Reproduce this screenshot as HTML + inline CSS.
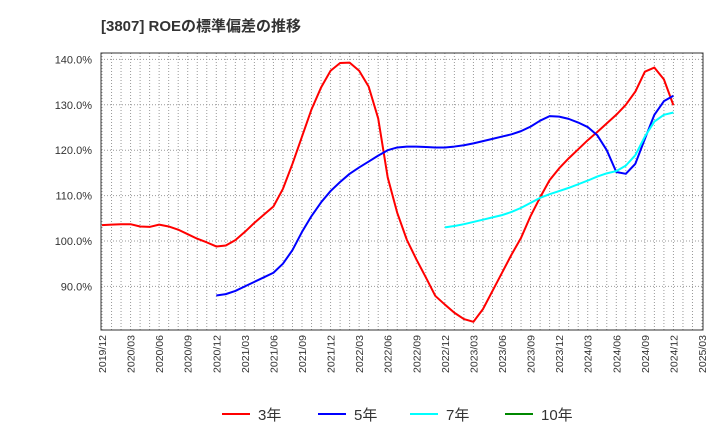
<!DOCTYPE html>
<html><head><meta charset="utf-8"><style>
body{margin:0;background:#fff;font-family:"Liberation Sans","Noto Sans CJK JP",sans-serif}
svg text{font-family:"Liberation Sans","Noto Sans CJK JP",sans-serif}
</style></head><body>
<svg id="c" width="720" height="440" xmlns="http://www.w3.org/2000/svg">
<text x="101" y="31" font-size="15" font-weight="bold" fill="#333">[3807]  ROEの標準偏差の推移</text>
<g id="grid"></g><g id="axes"></g><g id="series"></g><g id="legend"></g>
</svg>
<script>
const xLabels=["2019/12","2020/03","2020/06","2020/09","2020/12","2021/03","2021/06","2021/09","2021/12","2022/03","2022/06","2022/09","2022/12","2023/03","2023/06","2023/09","2023/12","2024/03","2024/06","2024/09","2024/12","2025/03"];
const yTicks=[90,100,110,120,130,140];
const s3Start=0;
const s3=[103.5,103.6,103.7,103.7,103.2,103.1,103.6,103.2,102.5,101.5,100.5,99.7,98.8,99.0,100.2,102,104,105.8,107.6,111.5,117,123,129,133.8,137.5,139.2,139.3,137.5,134,127,114,106.2,100.3,96,92,87.9,86,84.2,82.8,82.2,85,89,93,97,100.7,105.5,109.6,113.4,116,118.2,120.2,122.2,124,125.9,127.8,130,132.9,137.3,138.2,135.6,129.9];
const s5Start=12;
const s5=[88,88.3,89,90,91,92,93,95,98,102,105.5,108.5,111,113,114.8,116.2,117.5,118.8,120,120.6,120.8,120.8,120.7,120.6,120.6,120.8,121.1,121.5,122,122.5,123,123.5,124.2,125.2,126.5,127.5,127.4,126.9,126.1,125.1,123.3,120,115.2,114.8,117,122.5,127.8,130.8,132];
const s7Start=36;
const s7=[103,103.3,103.7,104.2,104.7,105.2,105.7,106.4,107.3,108.4,109.5,110.3,111,111.7,112.5,113.3,114.2,114.9,115.4,116.6,118.9,123,126.3,127.8,128.3];
const s10Start=0;
const s10=[];
const L=101,R=703,T=53,B=330;
const X=m=>102+m*(600/63);
const Y=v=>241-(v-100)*4.54;
const NS="http://www.w3.org/2000/svg";
function mk(t,a,p){const e=document.createElementNS(NS,t);for(const k in a)e.setAttribute(k,a[k]);p.appendChild(e);return e;}
const grid=document.getElementById('grid'),axes=document.getElementById('axes'),ser=document.getElementById('series'),leg=document.getElementById('legend');
for(let m=0;m<=63;m++){const x=X(m);if(x>R)break;
const l=mk('line',{x1:x,x2:x,y1:T,y2:B,stroke:'#999','stroke-dasharray':'1,2','stroke-width':1},grid);

}
yTicks.forEach(v=>{const y=Y(v);
const l=mk('line',{x1:L,x2:R,y1:y,y2:y,stroke:'#999','stroke-dasharray':'1,2'},grid);


const t=mk('text',{x:92,y:y+4,'text-anchor':'end','font-size':11,fill:'#333'},axes);t.textContent=v.toFixed(1)+'%';

});
xLabels.forEach((s,i)=>{const x=X(i*3);
const t=mk('text',{x:0,y:0,'text-anchor':'end','font-size':10.5,fill:'#333',transform:`translate(${x+4},335) rotate(-90)`},axes);t.textContent=s;

});
const fr=mk('rect',{x:L,y:T,width:R-L,height:B-T,fill:'none',stroke:'#333','stroke-width':1},axes);


function line(arr,start,color,name){if(!arr.length)return;
const p=mk('polyline',{points:arr.map((v,i)=>X(start+i)+','+Y(v)).join(' '),fill:'none',stroke:color,'stroke-width':2,'stroke-linejoin':'round'},ser);

}
line(s3,s3Start,'#f00','series-3y');
line(s5,s5Start,'#00f','series-5y');
line(s7,s7Start,'#0ff','series-7y');
line(s10,s10Start,'#080','series-10y');
[['3年','#f00',222],['5年','#00f',318],['7年','#0ff',410],['10年','#080',505]].forEach(([n,c,x])=>{
const g=mk('g',{},leg);


mk('line',{x1:x,x2:x+28,y1:414,y2:414,stroke:c,'stroke-width':2},g);
const t=mk('text',{x:x+36,y:420,'font-size':15,fill:'#333'},g);t.textContent=n;});
</script>
</body></html>
